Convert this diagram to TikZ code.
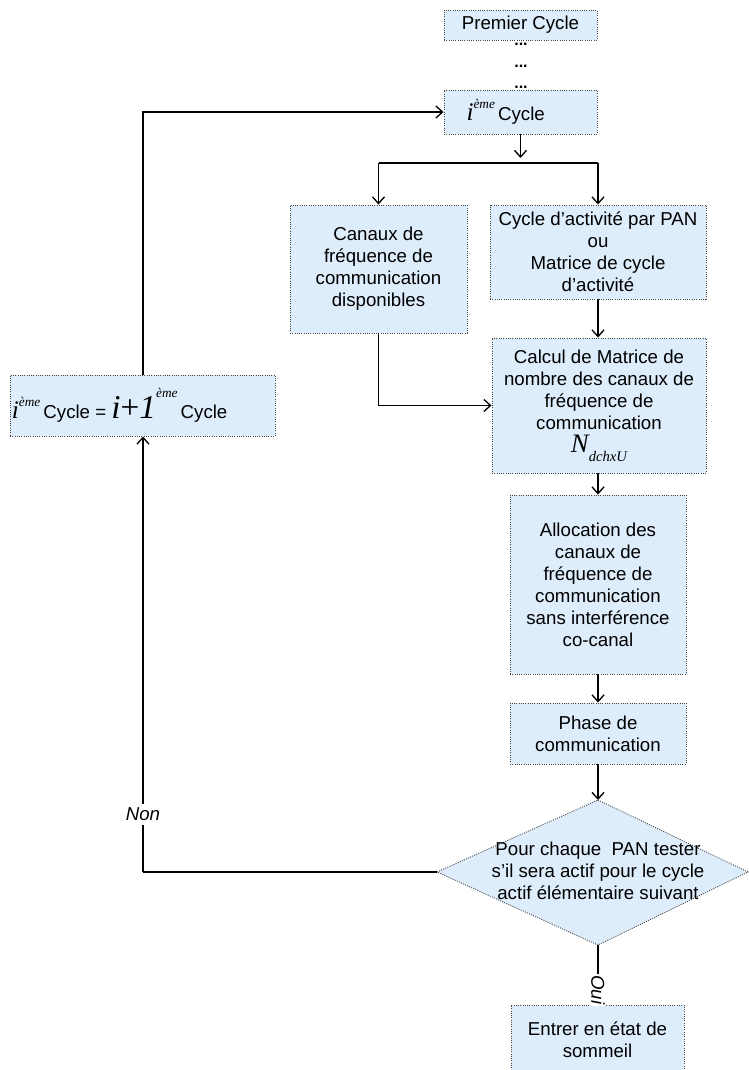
\documentclass[tikz,border=0pt]{standalone}
\usepackage{fontspec}
\setmainfont{Liberation Sans}
\newfontfamily\tms{Liberation Serif}
\usetikzlibrary{arrows.meta,calc}
\definecolor{boxfill}{RGB}{222,237,251}
\definecolor{boxline}{RGB}{70,70,70}
\newcommand\iemeTxt{{\tms\itshape\fontsize{19}{19}\selectfont i}\raisebox{1.25ex}{\tms\itshape\fontsize{10}{10}\selectfont ème}}
\begin{document}
\begin{tikzpicture}[x=0.75pt,y=-0.75pt,
  every node/.style={font=\fontsize{14}{16.5}\selectfont},
  procbox/.style={draw=boxline, densely dotted, line width=0.7pt, fill=boxfill, align=center, inner sep=0pt},
  dotsnode/.style={inner sep=0pt, anchor=base, font=\fontsize{12}{12}\selectfont\bfseries},
  conn/.style={draw=black, line width=1.2pt, solid},
  arr/.style={conn, -{Straight Barb[length=5pt,width=9pt,line width=1pt]}},
  lbl/.style={fill=white, inner sep=1pt, font=\fontsize{14}{16}\selectfont\itshape}]
\useasboundingbox (0,0) rectangle (749,1070);
\clip (0,0) rectangle (749,1070);
\coordinate (xcol) at (598,0);
% nodes
\node[procbox, minimum width=114.75pt, minimum height=22.5pt] (prem) at (520.5,25) {Premier Cycle};
\node[dotsnode] (d1) at (521,46) {...};
\node[dotsnode] (d2) at (521,68) {...};
\node[dotsnode] (d3) at (521,89) {...};
\node[procbox, minimum width=114.75pt, minimum height=33pt] (ieme) at (520.5,112) {\makebox[113pt][l]{\hspace{16pt}\iemeTxt{}\,Cycle}};
\node[procbox, minimum width=132.75pt, minimum height=96pt] (canaux) at (378.5,269) {Canaux de\\fréquence de\\communication\\disponibles};
\node[procbox, minimum width=162pt, minimum height=70.5pt] (cycact) at (598,252) {Cycle d’activité par PAN\\ou\\Matrice de cycle\\d’activité};
\node[procbox, minimum width=160.5pt, minimum height=101.25pt] (calcul) at (599,405.5) {Calcul de Matrice de\\nombre des canaux de\\fréquence de\\communication\\[1pt]{\tms\itshape\fontsize{20}{20}\selectfont N}\raisebox{-0.9ex}{\tms\itshape\fontsize{11}{11}\selectfont dchxU}};
\node[procbox, minimum width=132pt, minimum height=134.25pt] (alloc) at (598,584.5) {Allocation des\\canaux de\\fréquence de\\communication\\sans interférence\\co-canal};
\node[procbox, minimum width=132pt, minimum height=45.75pt] (phase) at (598,733.5) {Phase de\\communication};
\node[procbox, minimum width=129.75pt, minimum height=52.5pt] (entrer) at (597.5,1040) {Entrer en état de\\sommeil};
\node[procbox, minimum width=198.75pt, minimum height=45.75pt] (next) at (142.5,405.5) {\makebox[197pt][l]{\hspace{0.5pt}\iemeTxt{}\,Cycle = {\tms\itshape\fontsize{25}{25}\selectfont i\upshape{+}\itshape 1}\raisebox{2.1ex}{\tms\itshape\fontsize{10}{10}\selectfont ème}\,Cycle}};
% decision diamond
\coordinate (dtop) at (598,800);
\coordinate (dright) at (748,872);
\coordinate (dbot) at (598,945);
\coordinate (dleft) at (437,872);
\path[procbox] (dtop) -- (dright) -- (dbot) -- (dleft) -- cycle;
\node[align=center, inner sep=0pt] (dtext) at (598,871) {Pour chaque \ PAN tester\\s’il sera actif pour le cycle\\actif élémentaire suivant};
% connectors
\coordinate (split) at (520.5,163);
\coordinate (splitL) at (378.5,163);
\coordinate (splitR) at (598,163);
\draw[arr] (ieme.south) -- ($(split)+(0,-5)$);
\draw[conn] (splitL) -- (splitR);
\draw[arr] (splitL) -- (canaux.north);
\draw[arr] (splitR) -- (cycact.north -| splitR);
\draw[arr] (canaux.south) |- (calcul.west);
\draw[arr] (cycact.south -| xcol) -- (calcul.north -| xcol);
\draw[arr] (calcul.south -| xcol) -- (alloc.north);
\draw[arr] (alloc.south) -- (phase.north);
\draw[arr] (phase.south) -- (dtop);
\draw[arr] (dbot) -- node[lbl, rotate=-90, pos=0.75] (oui) {Oui} (entrer.north -| dbot);
\coordinate (corner) at (143,872);
\draw[conn] (dleft) -- (corner);
\draw[arr] (corner) -- node[lbl, pos=0.133, inner sep=3pt] (non) {Non} (next.south -| corner);
\coordinate (topcorner) at (143,112);
\draw[arr] (next.north -| corner) -- (topcorner) -- (ieme.west);
\end{tikzpicture}
\end{document}
